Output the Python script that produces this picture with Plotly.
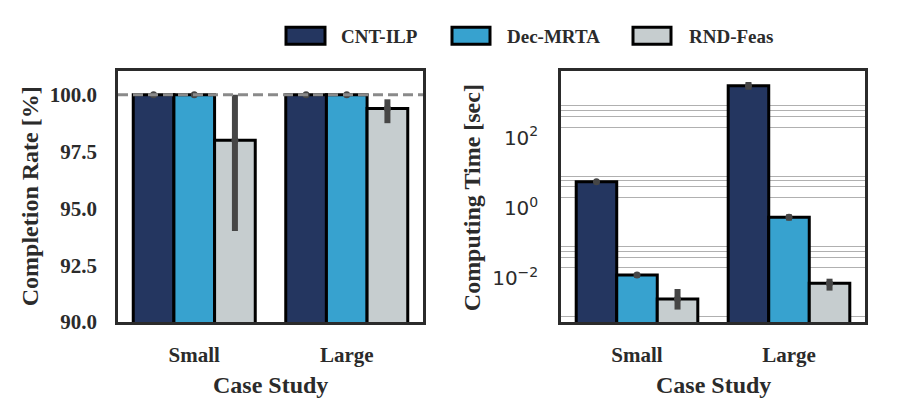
import plotly.graph_objects as go

# ---------------- data ----------------
categories = ["Small", "Large"]
methods = ["CNT-ILP", "Dec-MRTA", "RND-Feas"]
colors = ["#243660", "#37a2cf", "#c6cdcf"]

# Completion rate [%]: mean, lower, upper
cr_cnt = [100.0, 100.0]
cr_cnt_lo = [100.0, 100.0]
cr_cnt_hi = [100.0, 100.0]
cr_dec = [100.0, 100.0]
cr_dec_lo = [100.0, 100.0]
cr_dec_hi = [100.0, 100.0]
cr_rnd = [98.0, 99.4]
cr_rnd_lo = [94.0, 98.75]
cr_rnd_hi = [100.0, 99.8]

# Computing time [sec]: mean, lower, upper
ct_cnt = [5.6, 2950.0]
ct_cnt_lo = [5.3, 2300.0]
ct_cnt_hi = [5.9, 3800.0]
ct_dec = [0.0125, 0.55]
ct_dec_lo = [0.0105, 0.44]
ct_dec_hi = [0.0145, 0.66]
ct_rnd = [0.0026, 0.0073]
ct_rnd_lo = [0.0013, 0.0045]
ct_rnd_hi = [0.0050, 0.0098]

cr_ticks = [90.0, 92.5, 95.0, 97.5, 100.0]
ct_ticks = [0.01, 1, 100]
ct_ticktext = ["10<sup>\u22122</sup>", "10<sup>0</sup>", "10<sup>2</sup>"]
ct_minor = [m * 10.0 ** k for k in (-4, -2, 0, 2) for m in (2, 4, 6, 8)]

cr_series = [(cr_cnt, cr_cnt_lo, cr_cnt_hi), (cr_dec, cr_dec_lo, cr_dec_hi), (cr_rnd, cr_rnd_lo, cr_rnd_hi)]
ct_series = [(ct_cnt, ct_cnt_lo, ct_cnt_hi), (ct_dec, ct_dec_lo, ct_dec_hi), (ct_rnd, ct_rnd_lo, ct_rnd_hi)]

W, H = 897, 420
SERIF = "Liberation Serif"
TXT = "#2b2b2b"
ERR = "#464646"

fig = go.Figure()

for axes, series in (("1", cr_series), ("2", ct_series)):
    xa = "x" if axes == "1" else "x2"
    ya = "y" if axes == "1" else "y2"
    for name, col, (m, lo, hi) in zip(methods, colors, series):
        fig.add_trace(go.Bar(
            x=categories, y=m, name=name, marker=dict(color=col, line=dict(color="black", width=3)),
            offsetgroup=name, xaxis=xa, yaxis=ya, showlegend=False,
        ))
    for name, (m, lo, hi) in zip(methods, series):
        fig.add_trace(go.Scatter(
            x=categories, y=m, mode="markers", offsetgroup=name, xaxis=xa, yaxis=ya,
            marker=dict(color=ERR, size=7),
            error_y=dict(type="data", symmetric=False,
                         array=[h - v for h, v in zip(hi, m)],
                         arrayminus=[v - l for v, l in zip(m, lo)],
                         color=ERR, thickness=6, width=0),
            showlegend=False, hoverinfo="skip",
        ))

ydom = [1 - 331.5 / H, 1 - 73 / H]
tickfont_serif = dict(family=SERIF, size=21, color=TXT, weight="bold")
axis_common = dict(showline=True, mirror=True, linecolor=TXT, linewidth=2.5, ticks="", zeroline=False)

fig.update_layout(
    width=W, height=H, margin=dict(l=0, r=0, t=0, b=0),
    paper_bgcolor="white", plot_bgcolor="white",
    barmode="group", bargap=0.2, bargroupgap=0,
    scattermode="group", scattergap=0.2,
    xaxis=dict(domain=[118 / W, 423 / W], range=[-0.5, 1.5], tickfont=tickfont_serif,
               showgrid=False, ticklabelstandoff=12, **axis_common),
    yaxis=dict(domain=ydom, range=[90, 101.05], tickvals=cr_ticks, tickformat=".1f",
               tickfont=tickfont_serif, showgrid=False, ticklabelstandoff=14, **axis_common),
    xaxis2=dict(domain=[561 / W, 865 / W], range=[-0.5, 1.5], tickfont=tickfont_serif,
                showgrid=False, ticklabelstandoff=12, anchor="y2", **axis_common),
    yaxis2=dict(domain=ydom, type="log", range=[-3.24, 3.895], tickvals=ct_ticks, ticktext=ct_ticktext,
                tickfont=dict(family="DejaVu Sans", size=20, color=TXT), showgrid=False,
                ticklabelstandoff=16, anchor="x2",
                minor=dict(tickvals=ct_minor, showgrid=True, gridcolor="#b0b0b0", gridwidth=1.2, ticks=""),
                **axis_common),
)

# dashed reference line at 100 %
fig.add_shape(type="line", xref="x domain", yref="y", x0=0, x1=1, y0=100, y1=100,
              line=dict(color="#8a8a8a", width=3, dash="10px,5px"), layer="above")

# axis titles
title_font = dict(family=SERIF, size=24, color=TXT, weight="bold")
ann = dict(xref="paper", yref="paper", showarrow=False, xanchor="center", yanchor="middle")
fig.add_annotation(text="Completion Rate [%]", x=30 / W, y=1 - 202 / H, textangle=-90, font=title_font, **ann)
fig.add_annotation(text="Computing Time [sec]", x=472 / W, y=1 - 203 / H, textangle=-90, font=title_font, **ann)
for xc in ((118 + 423) / 2, (561 + 865) / 2):
    fig.add_annotation(text="Case Study", x=xc / W, y=1 - 396 / H, font=title_font, **ann)

# custom legend (wide boxes like the original)
leg_boxes = [(286, 325, 339), (452, 490, 505), (633, 671, 687)]
for (bx0, bx1, tx), name, col in zip(leg_boxes, methods, colors):
    fig.add_shape(type="rect", xref="paper", yref="paper", x0=bx0 / W, x1=bx1 / W,
                  y0=1 - 45.5 / H, y1=1 - 28 / H, fillcolor=col, line=dict(color="black", width=3))
    fig.add_annotation(text=name, x=tx / W, y=1 - 38 / H, xref="paper", yref="paper",
                       xanchor="left", yanchor="middle", showarrow=False,
                       font=dict(family=SERIF, size=19, color=TXT, weight="bold"))

fig.write_html("out.html")
